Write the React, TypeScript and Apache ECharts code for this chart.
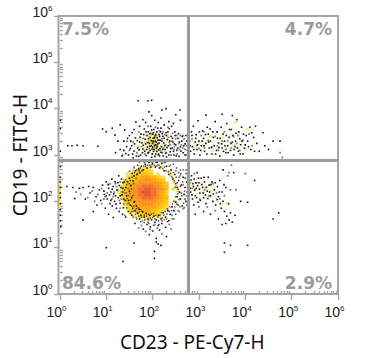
import React, { useEffect, useRef } from "react";
import * as echarts from "echarts";

// All event positions are log10 of the fluorescence value (decades).
const decades = [0, 1, 2, 3, 4, 5, 6];
const xTitle = "CD23 - PE-Cy7-H";
const yTitle = "CD19 - FITC-H";
const gateX = 2.77;
const gateY = 2.89;
const quadrantLabels = ["7.5%", "4.7%", "84.6%", "2.9%"];

const upperLeftBlack = [
  [1.42,3.03],[1.55,3.2],[1.6,3.08],[1.63,3.37],[1.68,3.15],[1.7,2.97],[1.72,3.28],[1.75,3.45],[1.78,3.05],[1.8,3.21],[1.82,3.56],[1.84,3.34],[1.86,2.99],[1.87,3.12],[1.88,3.42],[1.9,3.27],[1.91,3.5],[1.92,3.06],[1.94,3.19],[1.95,3.38],[1.96,3.62],[1.97,3.31],[1.98,2.95],[1.99,3.13],[2.0,3.45],[2.0,3.25],[2.01,3.36],[2.02,3.08],[2.03,3.55],[2.04,3.2],[2.05,3.41],[2.06,3.3],[2.07,3.02],[2.08,3.15],[2.09,3.5],[2.1,3.37],[2.11,3.24],[2.12,3.7],[2.13,3.11],[2.14,3.44],[2.15,2.98],[2.16,3.32],[2.18,3.58],[2.19,3.18],[2.2,3.05],[2.22,3.4],[2.24,3.26],[2.25,3.65],[2.27,3.12],[2.29,3.48],[2.3,2.96],[2.32,3.33],[2.34,3.2],[2.36,3.57],[2.38,3.07],[2.4,3.4],[2.42,3.15],[2.44,3.28],[2.46,3.0],[2.48,3.5],[2.5,3.22],[2.52,3.1],[2.55,3.36],[2.57,2.97],[2.6,3.18],[2.63,3.3],[2.66,3.05],[2.7,3.24],[2.72,3.42],[2.75,3.1],
  [1.69,4.17],[1.9,4.17],[1.98,4.18],[2.2,3.97],[2.29,4.0],[1.92,3.93],[2.5,3.87],[2.6,3.75],[1.79,3.76],[1.64,3.71],[2.59,3.97],[1.3,3.65],[1.4,3.54],[1.19,3.43],[0.17,3.2],[0.26,3.2],[0.37,3.21],[0.5,3.2],[0.82,3.19],[0.01,3.75],[0.01,3.57],[0.01,3.08],[0.92,3.56],[1.0,3.5],[1.13,3.58],[1.3,3.12],[1.38,3.3],[1.5,3.42],[1.48,3.0],[1.58,2.94],
  [1.52,3.14],[1.57,3.02],[1.61,3.24],[1.65,2.98],[1.67,3.31],[1.71,3.11],[1.73,3.38],[1.74,3.0],[1.77,3.26],[1.79,3.13],[1.81,3.44],[1.83,3.08],[1.85,3.24],[1.86,3.5],[1.89,3.17],[1.9,3.04],[1.91,3.35],[1.93,3.25],[1.94,3.46],[1.95,3.1],[1.97,3.2],[1.98,3.54],[1.99,3.02],[2.0,3.17],[2.01,3.3],[2.02,3.48],[2.03,3.12],[2.04,3.37],[2.05,2.97],[2.06,3.22],[2.07,3.44],[2.08,3.28],[2.09,3.08],[2.1,3.18],[2.11,3.58],[2.12,3.32],[2.13,3.02],[2.14,3.26],[2.15,3.4],[2.16,3.14],[2.17,3.5],[2.18,3.06],[2.2,3.3],[2.21,3.46],[2.22,3.12],[2.23,2.98],[2.25,3.36],[2.26,3.2],[2.28,3.04],[2.3,3.42],[2.31,3.16],[2.33,3.5],[2.35,3.0],[2.37,3.3],[2.39,3.14],[2.41,3.62],[2.43,3.36],[2.45,3.08],[2.47,3.24],[2.49,3.42],[2.51,2.98],[2.54,3.15],[2.56,3.46],[2.58,3.28],[2.61,3.08],[2.64,3.4],[2.67,3.2],[2.7,3.0],[2.74,3.3],[1.44,3.18],[1.38,3.1],[1.34,2.98],[1.46,3.36],[1.53,3.3],[1.56,3.48],[1.25,3.3],[1.2,3.05],[1.6,3.55],[1.72,3.62],[1.85,3.7],[2.05,3.75],[2.18,3.8],[2.35,3.72],[2.45,3.68],[1.98,3.85],
];
const upperLeftGrey = [
  [1.5,3.1],[1.58,3.28],[1.66,3.05],[1.7,3.5],[1.76,3.18],[1.8,3.36],[1.83,3.02],[1.9,3.62],[1.93,3.14],[1.96,3.47],[2.0,3.03],[2.03,3.28],[2.06,3.6],[2.09,3.22],[2.12,3.0],[2.15,3.52],[2.17,3.1],[2.2,3.35],[2.23,3.15],[2.26,3.44],[2.3,3.05],[2.33,3.6],[2.36,3.27],[2.4,3.0],[2.43,3.47],[2.47,3.18],[2.5,3.35],[2.53,3.02],[2.56,3.25],[2.6,3.42],[2.65,3.15],[2.68,3.35],[2.73,3.0],[1.45,3.3],[1.35,3.0],[2.34,3.38],[2.38,3.22],[2.42,3.3],[2.46,3.12],[2.52,3.42],[2.58,3.12],[2.62,3.22],[2.66,3.42],[2.7,3.12],[2.74,3.2],[2.28,3.22],[2.22,3.5],
];
const upperPale = [
  [1.85,3.3],[1.9,3.42],[1.95,3.22],[2.0,3.35],[2.05,3.18],[2.1,3.3],[2.0,3.5],[2.15,3.42],[1.92,3.1],[2.08,3.05],[2.2,3.2],[2.28,3.32],[1.8,3.12],[2.4,3.25],[2.55,3.12],[1.98,3.28],[2.03,3.42],[2.06,3.26],[1.88,3.2],[2.12,3.14],[1.76,3.34],[2.24,3.1],[1.7,3.2],[2.35,3.44],
];
const upperCentreYellow = [
  [1.96,3.3],[2.0,3.24],[2.04,3.33],[2.08,3.4],[1.93,3.38],[2.02,3.16],[2.1,3.22],[1.9,3.28],[2.06,3.12],[1.98,3.44],
];
const upperRightBlack = [
  [2.8,3.3],[2.82,3.08],[2.84,3.5],[2.86,3.18],[2.88,3.62],[2.9,3.02],[2.92,3.28],[2.94,3.44],[2.96,3.12],[2.98,3.74],[3.0,3.3],[3.02,3.0],[3.05,3.2],[3.08,3.52],[3.1,3.36],[3.12,3.08],[3.15,3.25],[3.18,3.6],[3.2,3.45],[3.22,3.15],[3.25,3.3],[3.28,3.02],[3.3,3.5],[3.33,3.2],[3.35,3.72],[3.38,3.1],[3.4,3.36],[3.42,3.26],[3.45,2.98],[3.48,3.6],[3.5,3.15],[3.52,3.45],[3.55,3.3],[3.58,3.05],[3.6,3.68],[3.62,3.2],[3.65,3.38],[3.68,3.1],[3.7,3.55],[3.72,3.28],[3.75,3.0],[3.78,3.18],[3.8,3.47],[3.82,3.76],[3.85,3.08],[3.88,3.35],[3.9,3.22],[3.92,3.6],[3.95,3.02],[3.98,3.15],[4.02,3.42],[4.05,3.3],[4.1,3.6],[4.12,3.12],[4.18,3.38],[4.22,3.62],[4.25,3.25],[4.3,3.08],[4.38,3.48],[4.42,3.2],[4.5,3.12],[4.6,3.3],[4.75,3.3],[3.5,3.88],[3.72,3.85],[3.15,3.86],
  [2.81,3.2],[2.85,3.42],[2.89,3.12],[2.93,3.36],[2.97,3.22],[3.01,3.5],[3.04,3.1],[3.07,3.3],[3.11,3.2],[3.14,3.44],[3.17,3.02],[3.21,3.28],[3.24,3.56],[3.27,3.16],[3.31,3.38],[3.36,3.02],[3.39,3.5],[3.43,3.16],[3.46,3.36],[3.49,3.24],[3.53,3.08],[3.56,3.2],[3.59,3.42],[3.63,3.05],[3.66,3.55],[3.69,3.25],[3.73,3.42],[3.76,3.12],[3.79,3.3],[3.83,3.15],[3.86,3.5],[3.89,3.02],[3.93,3.3],[3.96,3.45],[4.0,3.22],[4.07,3.18],[4.14,3.48],[4.2,3.08],
];
const upperRightGrey = [
  [2.85,3.35],[2.95,3.2],[3.05,3.42],[3.12,3.15],[3.2,3.32],[3.28,3.18],[3.35,3.4],[3.42,3.1],[3.5,3.3],[3.55,3.5],[3.62,3.3],[3.7,3.15],[3.75,3.4],[3.82,3.25],[3.88,3.1],[3.95,3.32],[4.0,3.22],[4.08,3.45],[4.15,3.2],[4.75,3.05],[4.8,2.95],[3.0,3.14],[3.1,3.5],[3.4,3.2],[3.58,3.12],[3.84,3.42],
];
const upperRightPale = [
  [3.0,3.25],[3.1,3.2],[3.25,3.4],[3.45,3.25],[3.6,3.15],[3.7,3.42],[3.85,3.45],[3.9,3.3],[4.0,3.12],[4.05,3.55],[3.8,3.7],[2.85,3.3],[2.92,3.15],[3.3,3.1],[3.52,3.38],[3.75,3.22],
];
const coreRingBlack = [
  [1.42,2.3],[1.44,2.12],[1.46,2.42],[1.48,2.02],[1.5,2.22],[1.5,2.5],[1.52,1.92],[1.53,2.34],[1.55,2.08],[1.56,2.6],[1.57,1.85],[1.58,2.44],[1.6,1.98],[1.6,2.55],[1.62,1.8],[1.63,2.66],[1.65,1.9],[1.66,2.58],[1.68,1.74],[1.7,2.7],[1.71,1.83],[1.73,2.62],[1.75,1.7],[1.76,2.76],[1.78,1.78],[1.8,2.68],[1.82,1.66],[1.84,2.8],[1.86,1.74],[1.88,2.72],[1.9,1.62],[1.92,2.84],[1.94,1.7],[1.96,2.74],[1.98,1.6],[2.0,2.82],[2.03,1.68],[2.06,2.74],[2.08,1.6],[2.1,2.84],[2.13,1.7],[2.15,2.72],[2.18,1.62],[2.2,2.82],[2.23,1.75],[2.25,2.66],[2.28,1.66],[2.3,2.76],[2.33,1.8],[2.35,2.58],[2.38,1.72],[2.4,2.68],[2.42,1.88],[2.44,2.48],[2.46,1.8],[2.48,2.58],[2.5,1.98],[2.5,2.38],[2.53,2.1],[2.53,2.3],[2.55,1.92],[2.56,2.45],[2.58,2.2],[2.6,2.05],[2.62,2.35],[2.64,1.9],[2.66,2.52],[2.68,2.15],[2.7,2.3],[2.72,2.0],[2.74,2.42],[1.35,2.2],[1.36,2.4],[1.38,2.05],[1.32,2.3],[1.3,2.12],
  [1.72,1.62],[1.88,1.5],[1.95,1.45],[2.05,1.55],[2.12,1.48],[2.2,1.52],[2.28,1.44],[1.8,1.4],[2.0,1.36],[2.15,1.38],[2.35,1.58],[1.62,1.52],[1.55,1.7],[1.48,1.78],[1.93,1.28],[2.08,1.2],[2.3,1.24],[2.12,1.08],[2.18,1.05],[1.0,1.0],[1.36,0.7],[2.04,0.92],[2.04,0.77],[1.6,1.1],[2.08,1.12],
];
const coreInnerBlack = [
  [1.4,2.24],[1.43,2.18],[1.44,2.36],[1.45,2.06],[1.47,2.28],[1.48,2.12],[1.49,1.96],[1.5,2.38],[1.51,2.17],[1.52,2.45],[1.53,2.03],[1.54,2.26],[1.55,1.9],[1.56,2.52],[1.57,2.12],[1.58,1.78],[1.59,2.38],[1.6,1.9],[1.61,2.62],[1.62,2.0],[1.63,1.72],[1.64,2.5],[1.65,1.84],[1.66,2.68],[1.67,1.76],[1.68,2.6],[1.69,1.86],[1.7,1.68],[1.71,2.66],[1.72,1.78],[1.74,2.72],[1.75,1.82],[1.76,1.66],[1.77,2.66],[1.79,1.76],[1.81,2.76],[1.82,1.7],[1.83,1.6],[1.85,2.76],[1.87,1.68],[1.89,2.78],[1.91,1.72],[1.92,1.6],[1.94,2.78],[1.95,1.64],[1.97,1.72],[1.99,2.8],[2.0,1.65],[2.02,1.74],[2.04,2.78],[2.05,1.62],[2.07,1.7],[2.09,2.76],[2.11,1.66],[2.13,1.58],[2.14,2.78],[2.16,1.7],[2.17,2.74],[2.19,1.76],[2.21,1.64],[2.22,2.7],[2.24,1.7],[2.26,2.74],[2.27,1.78],[2.29,2.66],[2.31,1.72],[2.32,1.84],[2.34,2.64],[2.36,1.78],[2.37,1.88],[2.39,2.6],[2.41,1.8],[2.42,2.52],[2.43,1.94],[2.45,2.62],[2.46,2.0],[2.47,2.44],[2.48,1.88],[2.49,2.3],[2.5,2.1],[2.51,2.52],[2.52,1.94],[2.53,2.4],[2.54,2.16],[2.55,2.26],[2.57,2.04],[2.57,2.52],[2.59,1.88],[2.6,2.32],[2.61,2.6],[2.63,2.12],[2.65,2.42],[2.67,1.96],[2.69,2.22],[2.71,2.5],[2.73,2.12],[2.75,2.3],
  [2.6,2.68],[2.52,2.72],[2.45,2.8],[2.36,2.76],[2.28,2.84],[2.18,2.86],[2.07,2.84],[1.95,2.86],[1.82,2.84],[1.68,2.78],[1.6,2.74],[2.66,2.68],[2.72,2.6],[2.74,1.92],[2.68,1.86],[2.58,1.78],[2.5,1.72],[2.42,1.62],[2.32,1.56],[2.25,1.6],[2.14,1.5],[2.02,1.48],[1.92,1.52],[1.82,1.54],[1.74,1.56],[1.66,1.62],[1.58,1.66],[1.52,1.74],[1.44,1.86],[1.38,1.94],
];
const coreRingGrey = [
  [1.4,2.18],[1.42,2.46],[1.46,1.95],[1.5,2.65],[1.55,1.78],[1.6,2.72],[1.65,1.65],[1.72,2.84],[1.78,1.58],[1.85,2.86],[1.9,1.55],[1.98,2.86],[2.05,1.5],[2.12,2.78],[2.2,1.58],[2.25,2.84],[2.3,1.62],[2.38,2.78],[2.42,1.7],[2.5,2.66],[2.55,1.8],[2.6,2.56],[2.66,1.84],[2.7,2.5],[2.74,2.2],[1.25,2.25],[1.28,2.02],[1.2,2.38],[1.15,2.1],[1.7,1.42],[1.85,1.35],[2.2,1.3],[2.4,1.4],[1.4,1.7],[1.3,1.85],[2.62,2.18],[2.66,2.36],[2.7,2.05],[2.72,2.68],[2.56,2.62],[2.46,1.62],[2.36,1.5],[1.94,1.4],[2.1,1.42],[1.76,1.48],
];
const coreRingYellow = [
  [1.5,2.3],[1.56,2.14],[1.58,2.5],[1.64,1.95],[1.7,2.58],[1.74,1.82],[1.82,2.72],[1.9,1.72],[2.0,2.76],[2.1,1.74],[2.2,2.74],[2.3,1.84],[2.4,2.55],[2.48,2.0],[2.54,2.22],[2.46,2.42],[1.46,2.2],[1.52,2.42],[1.6,2.6],[1.96,1.66],[2.16,1.66],[2.36,2.64],[2.5,2.32],
];
const leftWingBlack = [
  [0.15,2.32],[0.28,2.3],[0.42,2.28],[0.5,2.3],[0.62,2.32],[0.32,2.06],[0.55,2.05],[0.65,2.18],[0.72,2.3],[0.78,2.1],[0.8,1.92],[0.85,2.25],[0.88,2.02],[0.92,2.35],[0.96,2.15],[0.98,1.85],[1.0,2.42],[1.02,2.05],[1.05,2.28],[1.08,1.95],[1.1,2.2],[1.12,2.48],[1.15,2.32],[1.18,2.0],[1.2,2.12],[1.22,1.85],[1.25,2.4],[1.27,2.55],[0.72,1.78],[1.05,1.72],[1.15,1.65],[0.5,1.6],
  [0.95,2.22],[1.0,2.12],[1.04,2.36],[1.07,2.14],[1.1,2.02],[1.13,2.26],[1.16,2.16],[1.19,2.42],[1.21,1.94],[1.23,2.24],[1.26,2.08],[1.28,2.34],[1.3,1.96],[1.33,2.48],[1.34,2.14],[1.36,2.28],[1.37,1.86],[1.39,2.42],[1.41,2.02],[1.13,1.9],[1.28,1.78],[1.35,1.72],[1.42,1.66],
];
const leftWingGrey = [
  [0.35,2.2],[0.45,2.15],[0.6,2.08],[0.7,2.22],[0.75,2.0],[0.82,2.15],[0.9,2.28],[0.95,2.05],[1.02,2.18],[1.08,2.38],[1.12,2.05],[1.17,2.2],[0.9,1.95],[0.98,2.1],[1.22,2.32],[1.3,2.42],[1.33,2.05],
];
const edgeBlack = [
  [0.01,2.75],[0.01,2.52],[0.01,2.42],[0.01,2.3],[0.01,2.18],[0.01,2.08],[0.01,1.95],[0.01,1.82],[0.01,1.7],[0.01,1.58],[0.02,1.45],
];
const edgeYellow = [
  [0.0,2.38],[0.0,2.34],[0.0,2.3],[0.0,2.26],[0.0,2.22],[0.0,2.18],[0.0,2.14],[0.0,2.1],[0.0,2.06],[0.0,2.02],[0.0,1.98],[0.0,1.94],[0.0,1.9],
];
const lowerRightBlack = [
  [2.8,2.4],[2.82,2.2],[2.84,2.55],[2.86,2.05],[2.88,2.32],[2.9,2.48],[2.92,2.12],[2.94,2.28],[2.96,2.62],[2.98,1.98],[3.0,2.4],[3.02,2.18],[3.05,2.5],[3.08,2.3],[3.1,2.08],[3.12,2.42],[3.15,1.95],[3.18,2.22],[3.2,2.52],[3.22,2.35],[3.25,2.12],[3.28,2.42],[3.3,2.0],[3.33,2.25],[3.36,1.92],[3.4,2.32],[3.42,2.1],[3.45,2.45],[3.48,1.85],[3.5,2.2],[3.52,2.0],[3.55,1.78],[3.58,2.3],[3.6,1.68],[3.64,1.95],[3.68,1.75],[3.72,1.55],[3.65,1.6],[3.58,1.52],[3.5,1.5],[3.78,1.7],[3.42,1.62],[3.9,2.0],[4.05,1.98],[4.2,2.45],[3.52,2.68],[3.75,2.62],[4.6,1.62],[4.72,1.75],[2.92,1.72],[3.1,1.78],[3.25,1.72],[3.55,1.1],[3.55,0.9],[3.68,1.05],[4.05,1.05],
  [2.81,2.28],[2.83,2.46],[2.85,2.14],[2.87,2.38],[2.89,1.92],[2.91,2.24],[2.93,2.4],[2.95,2.08],[2.97,2.34],[2.99,2.5],[3.01,2.26],[3.03,2.02],[3.06,2.36],[3.09,2.18],[3.11,2.52],[3.14,2.14],[3.16,2.3],[3.19,2.06],[3.23,2.2],[3.26,2.36],[3.31,2.16],[3.35,2.4],[3.39,2.04],[3.44,2.2],[3.54,2.36],[3.46,1.95],
];
const lowerRightGrey = [
  [2.85,2.28],[2.95,2.4],[3.02,2.05],[3.12,2.25],[3.22,2.12],[3.3,2.38],[3.38,2.18],[3.45,2.05],[3.55,2.12],[3.62,2.55],[3.7,2.78],[3.65,2.62],[4.0,2.6],[3.68,2.25],[3.8,2.25],[2.9,2.6],[3.0,1.88],[3.18,1.88],[3.35,1.8],
];
const lowerRightPale = [
  [2.9,2.25],[3.0,2.3],[3.1,2.2],[3.2,2.1],[3.3,2.3],[3.4,2.0],[3.6,1.95],[2.85,2.4],[2.95,2.15],[3.05,2.4],[3.15,2.32],[3.25,2.25],
];

// Density read from the central population: one row per 0.065 decades of FITC,
// one character per 0.065 decades of PE-Cy7, digit = density band.
const densityOriginX = 1.27;
const densityTopY = 2.72;
const densityStep = 0.065;
const densityRows = [
  ".......1.11........",
  ".....1122221.......",
  "...112223322.1.....",
  "...1223344433211...",
  "..12334445544332...",
  "..233445555554432..",
  ".1234455666655433..",
  ".1234556677665543.1",
  "12334556777665432..",
  ".2334556677665432..",
  ".1234455666655433..",
  "..233445555554432..",
  "..123344555544322..",
  "...22334444443321..",
  "...1223334433211...",
  "....1.222333221....",
  ".....1.22221.1.....",
  ".........1.........",
];
const densityColors = ["", "#f8df52", "#ffd012", "#fdbb08", "#fba40e", "#f98f1a", "#f26f24", "#e8552b"];

const majorTicks = decades;
const minorMultipliers = [2, 3, 4, 5, 6, 7, 8, 9];
const minorTicks = decades.slice(0, 6).flatMap((d) => minorMultipliers.map((m) => d + Math.log10(m)));

const densitySeries = densityColors.slice(1).map((color, i) => {
  const data: number[][] = [];
  densityRows.forEach((row, r) =>
    row.split("").forEach((c, k) => {
      if (Number(c) === i + 1) data.push([densityOriginX + k * densityStep, densityTopY - r * densityStep]);
    })
  );
  return {
    type: "scatter", data, symbol: "rect", symbolSize: 3.4, silent: true, z: 3 + i * 0.01,
    itemStyle: { color, opacity: 1 },
  };
});

const dots = (data: number[][], color: string, size: number, z: number) => ({
  type: "scatter", data, symbol: "rect", symbolSize: size, silent: true, z,
  itemStyle: { color, opacity: 1 },
});

const FONT = "Liberation Sans";
const TITLE_FONT = "Noto Sans";
const GREY = "#a6a6a6";
const richTicks = {
  b: { fontFamily: FONT, fontSize: 14, color: "#222" },
  s: { fontFamily: FONT, fontSize: 8, color: "#222", padding: [0, 0, 7, 0] },
};

function xAxisBase(ticks: number[], len: number, labels: boolean) {
  return {
    type: "value", min: -0.03, max: 6, gridIndex: 0,
    axisLine: { show: false }, splitLine: { show: false },
    axisTick: { show: true, customValues: ticks, length: len, lineStyle: { color: GREY, width: 1.4 } },
    axisLabel: labels
      ? {
          show: true, customValues: ticks, margin: 10, hideOverlap: false, padding: [0, 7, 0, 0],
          formatter: (v: number) => `{b|10}{s|${Math.round(v)}}`,
          rich: richTicks,
        }
      : { show: false },
  };
}
function yAxisBase(ticks: number[], len: number, labels: boolean) {
  return {
    type: "value", min: 0, max: 6, gridIndex: 0,
    axisLine: { show: false }, splitLine: { show: false },
    axisTick: { show: true, customValues: ticks, length: len, lineStyle: { color: GREY, width: 1.4 } },
    axisLabel: labels
      ? {
          show: true, customValues: ticks, margin: 6, hideOverlap: false, padding: [0, 0, 9, 0],
          formatter: (v: number) => `{b|10}{s|${Math.round(v)}}`,
          rich: richTicks,
        }
      : { show: false },
  };
}

export default function App() {
  const ref = useRef<HTMLDivElement>(null);
  useEffect(() => {
    const chart = echarts.init(ref.current!, undefined, { renderer: "svg" });
    const pctStyle = { fontFamily: "DejaVu Sans", fontWeight: "bold", fontSize: 17, fill: "#9b9b9b" };
    chart.setOption({
      animation: false,
      backgroundColor: "#fff",
      grid: {
        left: 58.5, right: 31, top: 16, bottom: 64, show: true, borderColor: GREY, borderWidth: 2,
        backgroundColor: "#fff", outerBoundsMode: "none",
      },
      xAxis: [
        {
          ...xAxisBase(majorTicks, 6, true),
          name: xTitle, nameLocation: "middle", nameGap: 38, nameMoveOverlap: false,
          nameTextStyle: { fontFamily: TITLE_FONT, fontSize: 19, color: "#111", padding: [0, 12, 0, 0] },
        },
        xAxisBase(minorTicks, 3, false),
      ],
      yAxis: [
        {
          ...yAxisBase(majorTicks, 6, true),
          name: yTitle, nameLocation: "middle", nameGap: 29, nameMoveOverlap: false,
          nameTextStyle: { fontFamily: TITLE_FONT, fontSize: 19, color: "#111" },
        },
        yAxisBase(minorTicks, 3, false),
      ],
      series: [
        dots(upperPale.concat(upperRightPale, lowerRightPale), "#f7ee9c", 3, 2),
        dots(upperCentreYellow, "#f6d93c", 3, 2.2),
        dots(coreRingYellow, "#ffd92a", 3, 2.5),
        ...densitySeries,
        dots(edgeYellow, "#f8dc40", 2, 4),
        dots(coreInnerBlack, "#4a4030", 1.4, 4.5),
        dots(upperLeftGrey.concat(upperRightGrey, coreRingGrey, leftWingGrey, lowerRightGrey), "#7d7d7d", 1.8, 5),
        dots(upperLeftBlack.concat(upperRightBlack, coreRingBlack, leftWingBlack, edgeBlack, lowerRightBlack), "#141414", 1.6, 6),
        {
          type: "scatter", data: [], z: 8, silent: true,
          markLine: {
            silent: true, symbol: "none", animation: false, z: 8, label: { show: false },
            lineStyle: { color: "#9a9a9a", width: 3, type: "solid" },
            data: [{ xAxis: gateX }, { yAxis: gateY }],
          },
        },
      ],
      graphic: [
        { type: "text", left: 62, top: 20, style: { ...pctStyle, text: quadrantLabels[0] } },
        { type: "text", right: 37, top: 20, style: { ...pctStyle, text: quadrantLabels[1], textAlign: "right" } },
        { type: "text", left: 62, top: 274, style: { ...pctStyle, text: quadrantLabels[2] } },
        { type: "text", right: 37, top: 274, style: { ...pctStyle, text: quadrantLabels[3], textAlign: "right" } },
      ],
    });
    return () => chart.dispose();
  }, []);
  return <div ref={ref} style={{ position: "fixed", left: 0, top: 0, width: 369, height: 358 }} />;
}
